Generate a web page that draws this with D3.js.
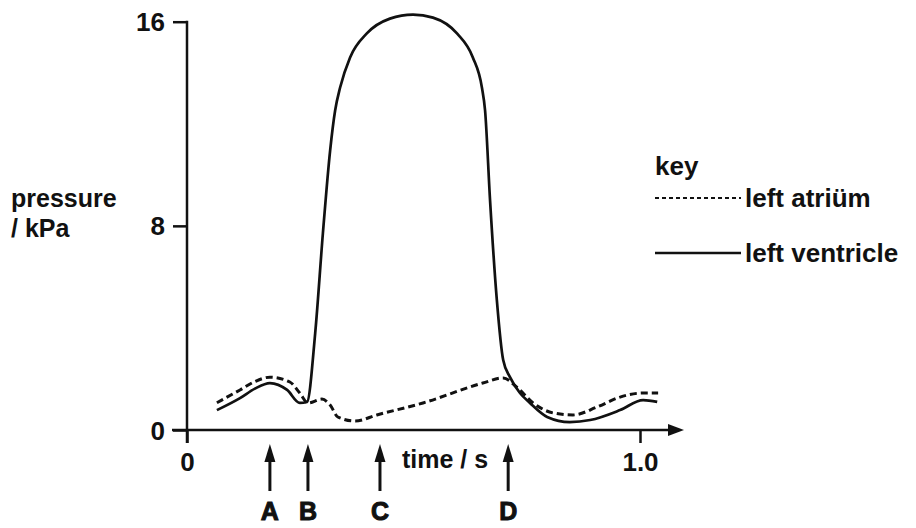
<!DOCTYPE html>
<html>
<head>
<meta charset="utf-8">
<script src="https://cdn.jsdelivr.net/npm/d3@7"></script>
<style>
  body { margin: 0; background: #fff; }
  text { font-family: "Liberation Sans", Arial, sans-serif; font-weight: bold; fill: #111; }
</style>
</head>
<body>
<svg class="chart"></svg>
<script>
// Pressure readings (time in s, pressure in kPa).
var ventricleTime = [0.066, 0.117, 0.150, 0.183, 0.221, 0.249, 0.265, 0.283, 0.300, 0.316, 0.327, 0.338, 0.360, 0.397, 0.448, 0.499, 0.543, 0.596, 0.631, 0.651, 0.658, 0.669, 0.684, 0.698, 0.713, 0.735, 0.757, 0.795, 0.845, 0.890, 0.956, 1.007, 1.038];
var ventriclePressure = [0.78, 1.25, 1.62, 1.84, 1.57, 1.06, 1.10, 3.80, 7.71, 10.96, 12.52, 13.42, 14.60, 15.54, 16.12, 16.28, 16.16, 15.54, 14.60, 13.42, 12.52, 9.00, 5.09, 2.74, 2.07, 1.45, 1.06, 0.51, 0.31, 0.39, 0.78, 1.17, 1.10];

var atriumTime = [0.066, 0.117, 0.150, 0.183, 0.227, 0.249, 0.267, 0.298, 0.316, 0.333, 0.371, 0.419, 0.521, 0.653, 0.698, 0.728, 0.764, 0.808, 0.852, 0.905, 0.956, 1.007, 1.040];
var atriumPressure = [1.07, 1.57, 1.90, 2.07, 1.88, 1.45, 1.06, 1.21, 0.98, 0.51, 0.35, 0.59, 1.06, 1.84, 2.04, 1.68, 1.06, 0.67, 0.59, 0.90, 1.29, 1.45, 1.45];

var yTicks = [0, 8, 16];
var xTicks = [0, 1.0];
var xTickLabels = ["0", "1.0"];

var markerLabels = ["A", "B", "C", "D"];
var markerTimes = [0.183, 0.267, 0.426, 0.709];

var seriesNames = ["left atriüm", "left ventricle"];

var width = 916,
    height = 528;

var svg = d3.select(".chart")
    .attr("width", width)
    .attr("height", height);

// Scales
var x = d3.scaleLinear().domain([0, 1]).range([187, 640]);
var y = d3.scaleLinear().domain([0, 16]).range([430, 21.7]);

// y axis
var yAxis = svg.append("g")
    .attr("transform", "translate(" + x(0) + ",0)")
    .call(d3.axisLeft(y).tickValues(yTicks).tickSize(14).tickSizeOuter(0).tickPadding(8));
yAxis.select(".domain").remove();
yAxis.selectAll("line").attr("stroke", "#111").attr("stroke-width", 2.5);
yAxis.selectAll("text")
    .style("font-size", "26px")
    .style("font-weight", "bold")
    .attr("dy", "0.35em");
svg.append("line")
    .attr("x1", x(0)).attr("x2", x(0))
    .attr("y1", y(16) - 1).attr("y2", y(0) + 13)
    .attr("stroke", "#111").attr("stroke-width", 2.5);

// x axis
var xAxis = svg.append("g")
    .attr("transform", "translate(0," + y(0) + ")")
    .call(d3.axisBottom(x).tickValues(xTicks)
        .tickFormat(function (d, i) { return xTickLabels[i]; })
        .tickSize(13).tickSizeOuter(0).tickPadding(10));
xAxis.select(".domain").remove();
xAxis.selectAll("line").attr("stroke", "#111").attr("stroke-width", 2.5);
xAxis.selectAll("text").style("font-size", "26px").style("font-weight", "bold");
svg.append("line")
    .attr("x1", x(0) - 15).attr("x2", 672)
    .attr("y1", y(0)).attr("y2", y(0))
    .attr("stroke", "#111").attr("stroke-width", 2.5);
svg.append("path")
    .attr("d", "M668," + (y(0) - 6) + " L684," + y(0) + " L668," + (y(0) + 6) + " Z")
    .attr("fill", "#111");

// Axis titles
svg.append("text").attr("x", 11).attr("y", 207).style("font-size", "25px").text("pressure");
svg.append("text").attr("x", 11).attr("y", 237).style("font-size", "25px").text("/ kPa");
svg.append("text").attr("x", 402).attr("y", 468).style("font-size", "25px").text("time / s");

// Curves
var line = d3.line()
    .x(function (d) { return x(d[0]); })
    .y(function (d) { return y(d[1]); })
    .curve(d3.curveMonotoneX);

svg.append("path")
    .datum(d3.zip(atriumTime, atriumPressure))
    .attr("d", line)
    .attr("fill", "none")
    .attr("stroke", "#111")
    .attr("stroke-width", 3)
    .attr("stroke-dasharray", "7,4");

svg.append("path")
    .datum(d3.zip(ventricleTime, ventriclePressure))
    .attr("d", line)
    .attr("fill", "none")
    .attr("stroke", "#111")
    .attr("stroke-width", 2.7);

// Event arrows A-D
var marks = svg.selectAll(".mark")
    .data(d3.zip(markerLabels, markerTimes))
    .enter().append("g")
    .attr("class", "mark")
    .attr("transform", function (d) { return "translate(" + x(d[1]) + ",0)"; });
marks.append("line")
    .attr("y1", 455).attr("y2", 491)
    .attr("stroke", "#111").attr("stroke-width", 3);
marks.append("path")
    .attr("d", "M-5.5,462 L0,444 L5.5,462 Z")
    .attr("fill", "#111");
marks.append("text")
    .attr("y", 520)
    .attr("text-anchor", "middle")
    .style("font-size", "25px")
    .style("font-weight", "bold")
    .attr("stroke", "#111")
    .attr("stroke-width", 1)
    .text(function (d) { return d[0]; });

// Key
var key = svg.append("g").attr("transform", "translate(655,0)");
key.append("text").attr("y", 175).style("font-size", "26px").text("key");
key.append("line")
    .attr("x1", 0).attr("x2", 86).attr("y1", 198).attr("y2", 198)
    .attr("stroke", "#111").attr("stroke-width", 2).attr("stroke-dasharray", "4,3");
key.append("text").attr("x", 90).attr("y", 207).style("font-size", "26px").text(seriesNames[0]);
key.append("line")
    .attr("x1", 0).attr("x2", 86).attr("y1", 253).attr("y2", 253)
    .attr("stroke", "#111").attr("stroke-width", 2.5);
key.append("text").attr("x", 90).attr("y", 262).style("font-size", "26px").text(seriesNames[1]);
</script>
</body>
</html>
